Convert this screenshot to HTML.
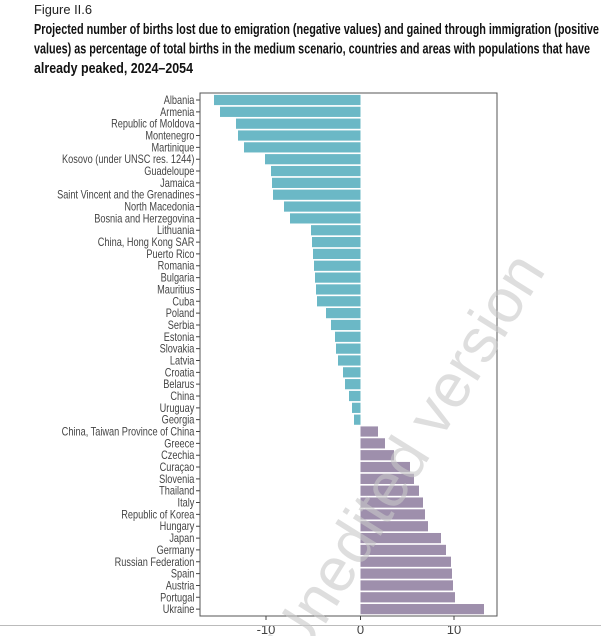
<!DOCTYPE html>
<html><head><meta charset="utf-8"><style>
body{margin:0;background:#fff;width:601px;height:636px;overflow:hidden}
</style></head><body>
<svg width="601" height="636" xmlns="http://www.w3.org/2000/svg" font-family="'Liberation Sans',sans-serif">
<text x="34" y="14" font-size="12.5" fill="#222" textLength="58" lengthAdjust="spacingAndGlyphs">Figure II.6</text>
<g font-size="14.5" font-weight="bold" fill="#111">
<text x="34" y="34" textLength="565" lengthAdjust="spacingAndGlyphs">Projected number of births lost due to emigration (negative values) and gained through immigration (positive</text>
<text x="34" y="53.5" textLength="556" lengthAdjust="spacingAndGlyphs">values) as percentage of total births in the medium scenario, countries and areas with populations that have</text>
<text x="34" y="73" textLength="159" lengthAdjust="spacingAndGlyphs">already peaked, 2024–2054</text>
</g>
<g fill="#6bb8c6">
<rect x="214" y="94.9" width="146.5" height="10.2"/>
<rect x="220" y="106.74" width="140.5" height="10.2"/>
<rect x="236" y="118.58" width="124.5" height="10.2"/>
<rect x="238" y="130.42" width="122.5" height="10.2"/>
<rect x="244" y="142.26" width="116.5" height="10.2"/>
<rect x="265" y="154.1" width="95.5" height="10.2"/>
<rect x="271" y="165.94" width="89.5" height="10.2"/>
<rect x="272" y="177.78" width="88.5" height="10.2"/>
<rect x="273" y="189.62" width="87.5" height="10.2"/>
<rect x="284" y="201.46" width="76.5" height="10.2"/>
<rect x="290" y="213.3" width="70.5" height="10.2"/>
<rect x="311" y="225.14" width="49.5" height="10.2"/>
<rect x="312" y="236.98" width="48.5" height="10.2"/>
<rect x="313" y="248.82" width="47.5" height="10.2"/>
<rect x="314" y="260.66" width="46.5" height="10.2"/>
<rect x="315" y="272.5" width="45.5" height="10.2"/>
<rect x="316" y="284.34" width="44.5" height="10.2"/>
<rect x="317" y="296.18" width="43.5" height="10.2"/>
<rect x="326" y="308.02" width="34.5" height="10.2"/>
<rect x="331" y="319.86" width="29.5" height="10.2"/>
<rect x="335" y="331.7" width="25.5" height="10.2"/>
<rect x="336" y="343.54" width="24.5" height="10.2"/>
<rect x="338" y="355.38" width="22.5" height="10.2"/>
<rect x="343" y="367.22" width="17.5" height="10.2"/>
<rect x="345" y="379.06" width="15.5" height="10.2"/>
<rect x="349" y="390.9" width="11.5" height="10.2"/>
<rect x="352" y="402.74" width="8.5" height="10.2"/>
<rect x="354" y="414.58" width="6.5" height="10.2"/>
</g>
<g fill="#9e8fac">
<rect x="360.5" y="426.42" width="17.5" height="10.2"/>
<rect x="360.5" y="438.26" width="24.5" height="10.2"/>
<rect x="360.5" y="450.1" width="33.5" height="10.2"/>
<rect x="360.5" y="461.94" width="49.5" height="10.2"/>
<rect x="360.5" y="473.78" width="53.5" height="10.2"/>
<rect x="360.5" y="485.62" width="58.5" height="10.2"/>
<rect x="360.5" y="497.46" width="62.5" height="10.2"/>
<rect x="360.5" y="509.3" width="64.5" height="10.2"/>
<rect x="360.5" y="521.14" width="67.5" height="10.2"/>
<rect x="360.5" y="532.98" width="80.5" height="10.2"/>
<rect x="360.5" y="544.82" width="85.5" height="10.2"/>
<rect x="360.5" y="556.66" width="90.5" height="10.2"/>
<rect x="360.5" y="568.5" width="91.5" height="10.2"/>
<rect x="360.5" y="580.34" width="92.5" height="10.2"/>
<rect x="360.5" y="592.18" width="94.5" height="10.2"/>
<rect x="360.5" y="604.02" width="123.5" height="10.2"/>
</g>
<g stroke="#444" stroke-width="1">
<path d="M196 100H200M196 111.84H200M196 123.68H200M196 135.52H200M196 147.36H200M196 159.2H200M196 171.04H200M196 182.88H200M196 194.72H200M196 206.56H200M196 218.4H200M196 230.24H200M196 242.08H200M196 253.92H200M196 265.76H200M196 277.6H200M196 289.44H200M196 301.28H200M196 313.12H200M196 324.96H200M196 336.8H200M196 348.64H200M196 360.48H200M196 372.32H200M196 384.16H200M196 396H200M196 407.84H200M196 419.68H200M196 431.52H200M196 443.36H200M196 455.2H200M196 467.04H200M196 478.88H200M196 490.72H200M196 502.56H200M196 514.4H200M196 526.24H200M196 538.08H200M196 549.92H200M196 561.76H200M196 573.6H200M196 585.44H200M196 597.28H200M196 609.12H200"/>
</g>
<g font-size="11.5" fill="#444" text-anchor="end" transform="scale(0.8,1)">
<text x="243" y="104">Albania</text>
<text x="243" y="115.84">Armenia</text>
<text x="243" y="127.68">Republic of Moldova</text>
<text x="243" y="139.52">Montenegro</text>
<text x="243" y="151.36">Martinique</text>
<text x="243" y="163.2">Kosovo (under UNSC res. 1244)</text>
<text x="243" y="175.04">Guadeloupe</text>
<text x="243" y="186.88">Jamaica</text>
<text x="243" y="198.72">Saint Vincent and the Grenadines</text>
<text x="243" y="210.56">North Macedonia</text>
<text x="243" y="222.4">Bosnia and Herzegovina</text>
<text x="243" y="234.24">Lithuania</text>
<text x="243" y="246.08">China, Hong Kong SAR</text>
<text x="243" y="257.92">Puerto Rico</text>
<text x="243" y="269.76">Romania</text>
<text x="243" y="281.6">Bulgaria</text>
<text x="243" y="293.44">Mauritius</text>
<text x="243" y="305.28">Cuba</text>
<text x="243" y="317.12">Poland</text>
<text x="243" y="328.96">Serbia</text>
<text x="243" y="340.8">Estonia</text>
<text x="243" y="352.64">Slovakia</text>
<text x="243" y="364.48">Latvia</text>
<text x="243" y="376.32">Croatia</text>
<text x="243" y="388.16">Belarus</text>
<text x="243" y="400">China</text>
<text x="243" y="411.84">Uruguay</text>
<text x="243" y="423.68">Georgia</text>
<text x="243" y="435.52">China, Taiwan Province of China</text>
<text x="243" y="447.36">Greece</text>
<text x="243" y="459.2">Czechia</text>
<text x="243" y="471.04">Curaçao</text>
<text x="243" y="482.88">Slovenia</text>
<text x="243" y="494.72">Thailand</text>
<text x="243" y="506.56">Italy</text>
<text x="243" y="518.4">Republic of Korea</text>
<text x="243" y="530.24">Hungary</text>
<text x="243" y="542.08">Japan</text>
<text x="243" y="553.92">Germany</text>
<text x="243" y="565.76">Russian Federation</text>
<text x="243" y="577.6">Spain</text>
<text x="243" y="589.44">Austria</text>
<text x="243" y="601.28">Portugal</text>
<text x="243" y="613.12">Ukraine</text>
</g>
<rect x="200" y="93" width="297" height="523" fill="none" stroke="#555" stroke-width="1"/>
<g font-size="13" fill="#444" text-anchor="middle" stroke="#444">
<line x1="266" y1="616" x2="266" y2="620"/>
<line x1="360.5" y1="616" x2="360.5" y2="620"/>
<line x1="454" y1="616" x2="454" y2="620"/>
</g>
<g font-size="13" fill="#444" text-anchor="middle">
<text x="266" y="634">-10</text>
<text x="360.5" y="634">0</text>
<text x="454" y="634">10</text>
</g>
<line x1="0" y1="625.5" x2="601" y2="625.5" stroke="#bbb" stroke-width="1"/>
<text x="0" y="0" font-size="62" fill="#c8c8c8" fill-opacity="0.6" transform="translate(300,665) rotate(-58)">Unedited version</text>
</svg>
</body></html>
